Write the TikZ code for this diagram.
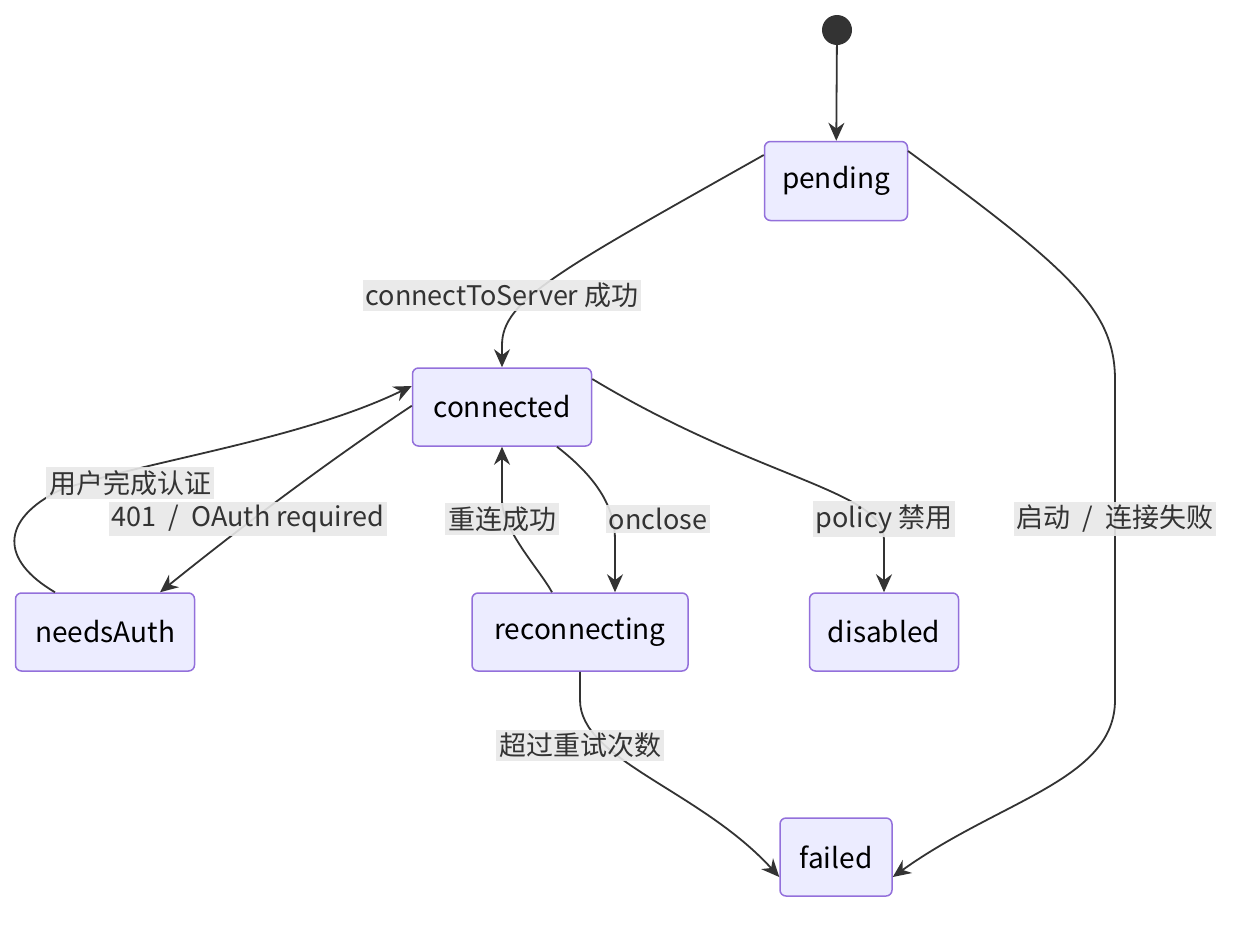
\documentclass[tikz,border=0pt]{standalone}
\usepackage{fontspec}
\setmainfont{Noto Sans CJK SC}
\usetikzlibrary{arrows.meta}
\definecolor{nfill}{HTML}{ECECFF}
\definecolor{nline}{HTML}{9370DB}
\definecolor{eline}{HTML}{333333}
\definecolor{lbg}{HTML}{E8E8E8}
\begin{document}
\begin{tikzpicture}[x=1pt,y=-1pt,
  st/.style={draw=nline,fill=nfill,line width=1.5pt,rounded corners=6pt,inner sep=0pt,font=\fontsize{28}{32}\selectfont,text=black},
  tr/.style={draw=eline,line width=1.8pt,-{Stealth[length=18pt,width=16pt]}},
  lb/.style={fill=lbg,fill opacity=0.9,text opacity=1,inner sep=3pt,font=\fontsize{27}{32}\selectfont,text=eline}]
\useasboundingbox (0,0) rectangle (1260,924);
\node[circle,fill=eline,minimum size=30pt,inner sep=0pt] (s) at (837,30) {};
\node[st,minimum width=143pt,minimum height=79pt] (pending) at (836,181) {pending};
\node[st,minimum width=179pt,minimum height=78pt] (connected) at (502,407) {connected};
\node[st,minimum width=179pt,minimum height=78pt] (needsAuth) at (105,632) {needsAuth};
\node[st,minimum width=216pt,minimum height=78pt] (reconnecting) at (580,632) {reconnecting};
\node[st,minimum width=149pt,minimum height=78pt] (disabled) at (884,632) {disabled};
\node[st,minimum width=112pt,minimum height=78pt] (failed) at (836,857) {failed};

\draw[tr] (s) -- (pending);
\draw[tr] ([yshift=26pt]pending.west) .. controls (560,270) and (502,300) .. (502,345) -- (connected.north);
\draw[tr] ([xshift=72pt,yshift=30pt]pending.center) .. controls (1070,270) and (1115,310) .. (1115,380) -- (1115,700) .. controls (1115,780) and (1000,800) .. ([yshift=-20pt]failed.east);
\draw[tr] ([yshift=41pt]connected.south west) .. controls (300,480) and (200,560) .. ([xshift=55pt]needsAuth.north);
\draw[tr] ([xshift=-50pt]needsAuth.north) .. controls (0,560) and (0,520) .. (60,490) .. controls (150,460) and (300,440) .. ([yshift=21pt]connected.west);
\draw[tr] ([xshift=-28pt]reconnecting.north) .. controls (540,570) and (502,530) .. (502,500) -- (connected.south);
\draw[tr] ([xshift=55pt]connected.south) .. controls (600,480) and (615,510) .. (615,540) -- ([xshift=35pt]reconnecting.north);
\draw[tr] ([yshift=28pt]connected.east) .. controls (760,480) and (884,490) .. (884,540) -- (disabled.north);
\draw[tr] (reconnecting.south) -- (580,700) .. controls (580,760) and (700,790) .. ([yshift=-20pt]failed.west);

\node[lb] (l1) at (502,295) {connectToServer 成功};
\node[lb] (l2) at (1115,519) {启动~~/~~连接失败};
\node[lb] (l3) at (248,519) {401~~/~~OAuth required};
\node[lb] (l4) at (130,483) {用户完成认证};
\node[lb] (l5) at (502,519) {重连成功};
\node[lb] (l6) at (658,519) {onclose};
\node[lb] (l7) at (884,519) {policy 禁用};
\node[lb] (l8) at (580,745) {超过重试次数};
\end{tikzpicture}
\end{document}
